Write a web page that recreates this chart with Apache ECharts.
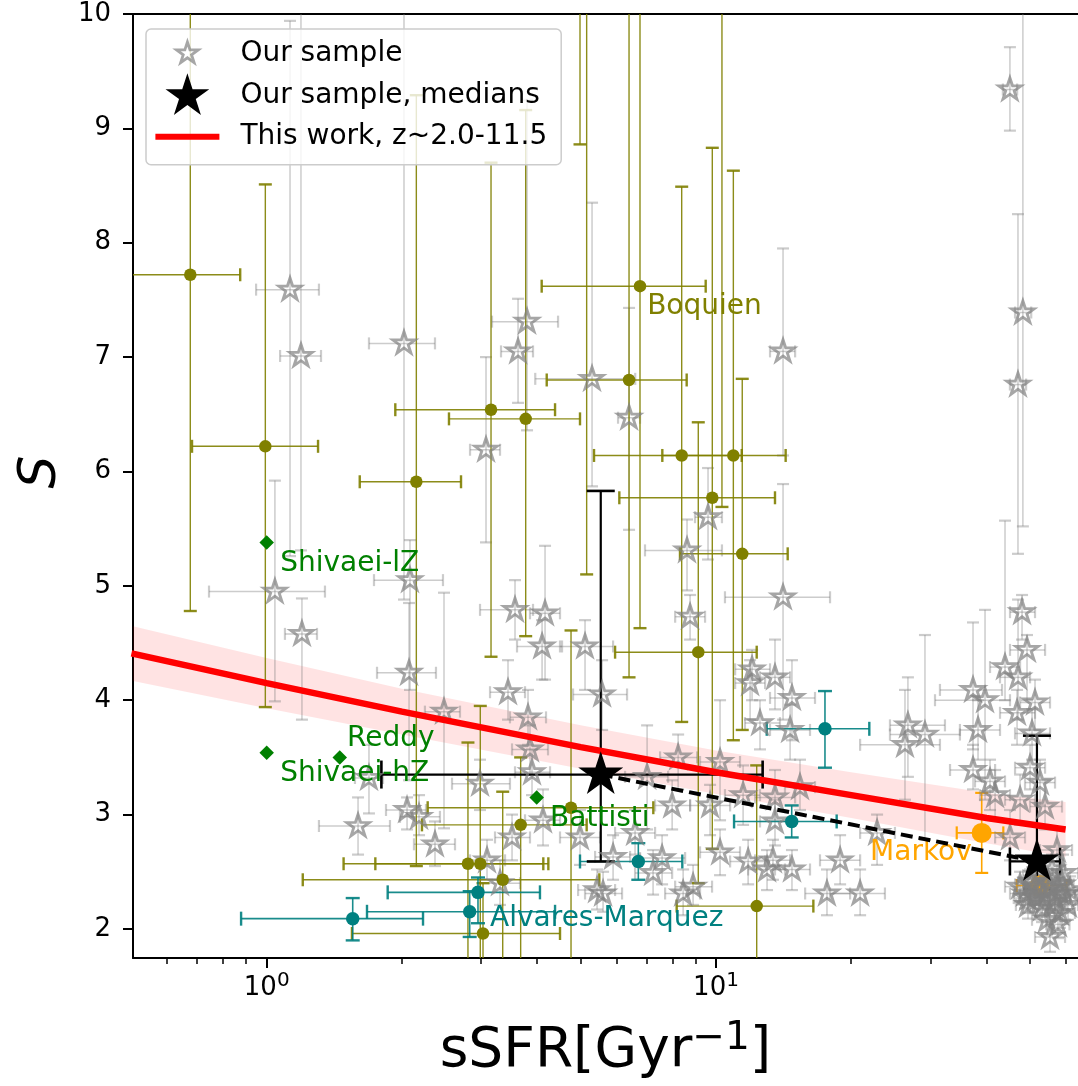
<!DOCTYPE html>
<html><head><meta charset="utf-8">
<script src="https://cdn.jsdelivr.net/npm/echarts@6/dist/echarts.min.js"></script>
<style>html,body{margin:0;padding:0;background:#fff}#c{width:1078px;height:1086px}</style>
</head><body><div id="c"></div>
<script>
// ---------------- data ----------------
const xMajorTicks = [1, 10];
const xMinorTicks = [0.5, 0.6, 0.7, 0.8, 0.9, 2, 3, 4, 5, 6, 7, 8, 9, 20, 30, 40, 50, 60];
const yTicks = [2, 3, 4, 5, 6, 7, 8, 9, 10];

// "Our sample" (grey stars)
const sampleX = [45.1,48.2,47.0,1.127,1.192,2.021,3.077,3.797,3.626,5.298,
6.405,14.10,9.60,8.62,1.043,1.198,2.084,2.074,2.481,2.984,
1.689,1.597,2.053,2.183,2.369,3.570,4.164,4.101,5.111,8.756,
14.10,3.444,5.578,3.816,3.855,3.895,7.025,8.236,10.21,7.987,
9.701,11.49,12.03,11.91,13.53,14.76,12.53,14.62,15.38,13.53,
13.53,3.516,4.121,4.982,6.605,5.901,7.586,7.244,10.21,11.79,
12.99,13.39,14.76,3.093,3.306,5.436,5.606,8.450,8.892,17.66,
18.89,20.93,22.83,26.74,26.34,29.18,37.33,39.70,38.30,37.33,
40.73,43.98,47.02,46.78,51.29,49.23,47.99,50.00,41.80,45.12,
47.51,54.00,50.51,52.62,57.41,59.20,50.00,52.62,55.39,58.30,
51.29,54.00,56.83,59.82,48.73,54.55,58.30,55.39,60.75,52.09,
55.96,47.51,50.51,53.44,57.41,49.48,49.48,53.17,56.83,51.55,
54.83,58.90,61.37,57.70];
const sampleS = [9.34,7.39,6.76,7.59,7.01,7.12,6.19,7.31,7.05,6.81,
6.47,7.05,5.60,5.31,4.95,4.58,5.05,4.24,3.90,3.27,
3.32,2.90,3.04,2.98,2.74,4.79,4.76,4.47,4.47,4.73,
4.90,4.07,4.05,3.85,3.57,3.37,3.33,3.50,3.46,3.08,
3.08,3.17,4.27,4.15,4.20,4.02,3.80,3.74,3.24,3.15,
2.94,2.80,2.95,2.80,2.84,2.63,2.62,2.49,2.67,2.59,
2.52,2.60,2.52,2.60,2.40,2.34,2.31,2.31,2.37,2.31,
2.60,2.31,2.84,3.78,3.61,3.70,4.09,4.00,3.74,3.39,
3.29,4.29,4.20,3.89,3.98,4.44,4.77,3.41,3.17,2.80,
3.13,3.07,3.71,3.28,2.69,2.49,2.39,2.34,2.36,2.32,
2.28,2.25,2.27,2.30,2.31,2.08,2.14,1.93,2.21,2.47,
2.52,2.37,2.41,2.30,2.39,2.27,2.21,2.18,2.21,2.36,
2.41,2.39,2.34,2.04];
const sampleXLo = [43.5,46.3,45.1,0.947,1.071,1.689,2.835,3.173,3.323,3.96,
6.053,13.19,8.98,6.95,0.744,1.098,1.733,1.760,2.250,2.585,
1.572,1.307,1.843,1.980,2.127,2.984,3.855,3.607,4.496,8.111,
10.47,3.141,4.807,3.479,3.516,3.570,6.275,7.508,9.215,7.318,
8.756,10.47,11.03,11.03,12.53,13.19,11.60,13.19,14.24,12.22,
12.53,3.222,3.758,4.496,5.962,5.381,6.776,6.605,9.215,10.75,
11.79,12.22,13.53,2.835,2.984,4.932,5.111,7.704,8.111,15.79,
17.04,17.94,20.93,24.39,20.93,24.39,31.51,30.72,34.91,33.18,
37.71,40.73,42.87,42.87,47.51,45.12,45.12,46.30,38.69,41.80,
43.98,50.00,46.30,48.73,52.62,54.83,46.30,48.73,51.29,54.00,
47.51,50.00,52.62,55.39,45.12,50.51,54.00,51.29,56.83,48.24,
52.09,43.98,47.0,50.0,54.0,46.0,46.5,50.0,53.5,48.5,
51.5,55.5,58.0,54.3];
const sampleXHi = [46.8,50.3,49.0,1.307,1.321,2.369,3.306,4.451,3.915,6.61,
6.776,15.00,10.31,10.31,1.348,1.294,2.468,2.381,2.693,3.479,
1.815,1.881,2.262,2.430,2.625,3.915,4.496,4.543,5.901,9.455,
17.94,3.758,6.339,4.185,4.228,4.272,7.824,9.076,11.31,8.756,
10.75,12.53,13.19,12.86,14.62,16.61,13.88,16.19,16.61,15.00,
14.62,3.855,4.496,5.520,7.318,6.438,8.536,7.987,11.31,12.86,
14.24,14.62,16.19,3.392,3.663,5.962,6.179,9.215,9.800,19.88,
20.93,23.77,25.02,32.33,31.51,34.91,43.31,45.12,42.87,41.80,
43.98,47.51,50.00,51.29,55.39,54.00,51.29,54.00,45.12,48.73,
51.29,58.90,55.39,56.83,62.01,63.93,54.00,56.83,59.82,62.95,
55.39,58.30,61.37,63.93,52.62,58.90,62.95,59.82,63.93,56.23,
59.82,51.29,54.3,57.0,61.0,53.0,52.5,56.5,60.3,54.8,
58.2,62.5,64.5,61.2];
const sampleSLo = [8.98,5.52,5.28,5.26,5.31,4.88,5.38,6.36,6.60,5.87,
5.49,6.14,5.23,4.96,3.99,3.83,4.09,3.30,2.88,3.04,
3.01,2.65,2.87,2.82,2.55,4.53,4.18,4.18,4.09,4.53,
3.83,3.83,3.74,3.61,3.35,3.17,2.87,3.22,2.95,2.87,
2.82,2.91,4.00,3.83,3.92,3.65,3.57,3.48,3.04,2.95,
2.73,2.60,2.73,2.56,2.65,2.43,2.39,2.30,2.47,2.39,
2.34,2.43,2.34,2.43,2.21,2.17,2.15,2.12,2.21,2.12,
2.39,2.12,2.56,3.33,3.13,2.78,3.57,3.13,3.48,3.22,
3.04,4.00,3.83,3.61,3.74,4.00,4.53,3.22,2.95,2.60,
2.91,2.87,3.48,3.08,2.52,2.34,2.25,2.21,2.23,2.19,
2.15,2.12,2.14,2.17,2.18,1.95,2.01,1.80,2.08,2.34,
2.38,2.24,2.28,2.17,2.26,2.14,2.09,2.06,2.09,2.24,
2.29,2.27,2.22,1.92];
const sampleSHi = [9.71,10.6,8.25,9.94,10.3,10.4,7.00,9.25,7.51,8.35,
7.43,7.95,6.03,5.58,5.92,4.89,5.40,4.85,4.94,3.48,
3.61,3.15,3.15,3.17,2.94,5.05,5.35,4.70,4.70,4.92,
5.89,4.35,4.35,4.09,3.78,3.57,3.78,3.70,4.00,3.30,
3.26,3.43,4.44,4.35,4.53,4.35,4.00,3.96,3.48,3.39,
3.13,3.00,3.22,3.04,3.04,2.82,2.82,2.69,2.87,2.78,
2.69,2.78,2.69,2.78,2.60,2.52,2.50,2.52,2.56,2.52,
2.82,2.52,3.00,4.20,4.09,4.57,4.68,4.79,4.00,3.61,
3.48,5.57,4.88,4.09,4.18,4.57,4.92,3.61,3.39,3.04,
3.35,3.30,3.92,3.48,2.87,2.65,2.52,2.47,2.49,2.45,
2.41,2.38,2.40,2.43,2.45,2.21,2.27,2.06,2.34,2.60,
2.65,2.50,2.54,2.43,2.52,2.40,2.33,2.30,2.33,2.48,
2.53,2.51,2.46,2.16];

// Boquien (olive)
const boqX   = [0.676,0.993,2.153,3.157,3.771,6.774,6.404,8.388,10.93,9.812,11.44,9.132,4.757,3.675,2.805,2.988,3.352,3.030,12.32,5.154,10.31,4.981];
const boqS   = [7.72,6.22,5.91,6.54,6.46,7.62,6.80,6.14,6.14,5.77,5.28,4.42,3.06,2.91,2.57,2.57,2.43,1.96,2.20,10.8,10.6,10.8];
const boqXLo = [0.40,0.682,1.611,1.933,2.545,4.093,4.200,5.352,7.595,6.093,8.315,5.962,2.282,2.216,1.483,1.745,1.203,1.548,8.175,5.154,10.31,4.981];
const boqXHi = [0.873,1.301,2.707,4.383,4.981,9.486,8.605,11.41,14.29,13.53,14.44,12.32,7.252,5.154,4.127,4.235,5.499,4.496,16.47,5.154,10.31,4.981];
const boqSLo = [4.78,3.94,2.55,4.38,4.56,4.63,4.20,3.81,3.65,2.70,3.74,2.40,1.50,1.50,1.50,1.50,1.50,1.50,1.50,5.10,5.69,8.86];
const boqSHi = [11.0,8.51,9.29,8.70,9.16,11.0,11.0,8.49,8.63,8.83,6.81,6.43,4.61,3.50,3.63,3.95,3.20,2.40,3.43,11.0,11.0,11.0];

// Alvares-Marquez (teal)
const amX   = [1.554,2.830,2.953,6.716,14.74,17.48];
const amS   = [2.09,2.15,2.32,2.59,2.94,3.75];
const amXLo = [0.877,1.672,1.859,4.981,10.97,12.97];
const amXHi = [2.228,4.383,4.057,8.414,18.56,21.94];
const amSLo = [1.90,1.93,2.05,2.43,2.80,3.41];
const amSHi = [2.27,2.33,2.45,2.75,3.08,4.08];

// Shivaei / Reddy / Battisti (green diamonds)
const grnX = [1.0, 1.0, 1.454, 3.990];
const grnS = [5.38, 3.54, 3.50, 3.15];

// Markov (orange)
const mkX   = [39.03, 52.6];
const mkS   = [2.84, 2.38];
const mkXLo = [34.34, 46.7];
const mkXHi = [43.6, 60.3];
const mkSLo = [2.49, 2.30];
const mkSHi = [3.19, 2.46];

// medians
const medX   = [5.54, 51.8];
const medS   = [3.35, 2.59];
const medXLo = [1.80, 45.1];
const medXHi = [12.7, 58.3];
const medSLo = [2.59, 2.35];
const medSHi = [5.83, 3.69];

// This work relation and its band
const fitX      = [0.5, 1, 2, 5, 10, 20, 40, 60];
const fitS      = [4.41, 4.15, 3.90, 3.59, 3.37, 3.17, 2.97, 2.87];
const bandUpper = [4.65, 4.37, 4.10, 3.78, 3.56, 3.37, 3.19, 3.11];
const bandLower = [4.17, 3.93, 3.70, 3.40, 3.18, 2.97, 2.75, 2.63];

// annotation labels
const annText  = ['Boquien', 'Shivaei-lZ', 'Reddy', 'Shivaei-hZ', 'Battisti', 'Alvares-Marquez', 'Markov'];
const annX     = [7.025, 1.071, 1.509, 1.071, 4.272, 3.141, 22.02];
const annS     = [7.438, 5.191, 3.661, 3.355, 2.962, 2.087, 2.665];
const annColor = ['#808000', '#008000', '#008000', '#008000', '#008000', '#008080', '#ffa500'];

// ---------------- chart ----------------
const FONT = 'DejaVu Sans';
const X_MIN = 0.504, X_MAX = 63.93, Y_MIN = 1.746, Y_MAX = 10;

const UNIT_STAR = [[0,-1],[0.2245,-0.309],[0.9511,-0.309],[0.3633,0.118],[0.5878,0.809],[0,0.382],[-0.5878,0.809],[-0.3633,0.118],[-0.9511,-0.309],[-0.2245,-0.309]];
function starPath(cx, cy, R) {
  return UNIT_STAR.map((p, i) => (i ? 'L' : 'M') + (cx + p[0]*R).toFixed(2) + ' ' + (cy + p[1]*R).toFixed(2)).join('') + 'Z';
}
const STAR_SYMBOL = 'path://' + starPath(0, 0, 10);
const IW = 80, IH = 46;
const iconGrey = 'path://M0 0M' + IW + ' ' + IH + starPath(32, 23, 11.4);
const iconBlack = 'path://M0 0M' + IW + ' ' + IH + starPath(32, 23.5, 23);
const iconLine = 'path://M0 0M' + IW + ' ' + IH + 'M0 20L64 20L64 26L0 26Z';

function zip6(a, b, c, d, e, f) { return a.map((v, i) => [v, b[i], c[i], d[i], e[i], f[i]]); }

function errRender(color, lw, capLen, capW) {
  return function (params, api) {
    const x = api.value(0), y = api.value(1);
    const c = api.coord([x, y]);
    const xl = api.coord([api.value(2), y])[0];
    const xh = api.coord([api.value(3), y])[0];
    const yl = api.coord([x, api.value(4)])[1];
    const yh = api.coord([x, api.value(5)])[1];
    const cs = params.coordSys;
    const ls = { stroke: color, lineWidth: lw };
    const cst = { stroke: color, lineWidth: capW };
    const h = capLen / 2;
    const ch = [];
    if (Math.abs(xh - xl) > 0.5) {
      ch.push({ type: 'line', shape: { x1: xl, y1: c[1], x2: xh, y2: c[1] }, style: ls });
      ch.push({ type: 'line', shape: { x1: xl, y1: c[1] - h, x2: xl, y2: c[1] + h }, style: cst });
      ch.push({ type: 'line', shape: { x1: xh, y1: c[1] - h, x2: xh, y2: c[1] + h }, style: cst });
    }
    if (Math.abs(yh - yl) > 0.5) {
      ch.push({ type: 'line', shape: { x1: c[0], y1: yl, x2: c[0], y2: yh }, style: ls });
      ch.push({ type: 'line', shape: { x1: c[0] - h, y1: yl, x2: c[0] + h, y2: yl }, style: cst });
      ch.push({ type: 'line', shape: { x1: c[0] - h, y1: yh, x2: c[0] + h, y2: yh }, style: cst });
    }
    return { type: 'group', children: ch,
      clipPath: { type: 'rect', shape: { x: cs.x, y: cs.y, width: cs.width, height: cs.height } } };
  };
}
function errSeries(name, data, color, lw, capLen, capW) {
  return { type: 'custom', name: name, data: data, encode: { x: 0, y: 1 },
    renderItem: errRender(color, lw, capLen, capW), silent: true, animation: false };
}

const chart = echarts.init(document.getElementById('c'), null, { renderer: 'canvas' });

const option = {
  animation: false,
  backgroundColor: '#ffffff',
  textStyle: { fontFamily: FONT },
  grid: { left: 133, top: 14, right: 0, bottom: 128, containLabel: false },
  legend: {
    left: 146, top: 29, orient: 'vertical',
    padding: [0, 14, 5, 8],
    itemWidth: IW, itemHeight: IH, itemGap: -5,
    selectedMode: false,
    backgroundColor: 'rgba(255,255,255,0.8)',
    borderColor: '#cccccc', borderWidth: 1.5, borderRadius: 5,
    textStyle: { fontSize: 28, color: '#000', fontFamily: FONT },
    data: [
      { name: 'Our sample', icon: iconGrey,
        itemStyle: { color: 'rgba(0,0,0,0)', borderColor: 'rgba(128,128,128,0.7)', borderWidth: 2.8 } },
      { name: 'Our sample, medians', icon: iconBlack,
        itemStyle: { color: '#000', borderWidth: 0 } },
      { name: 'This work, z~2.0-11.5', icon: iconLine,
        itemStyle: { color: '#ff0000', borderWidth: 0 } }
    ]
  },
  xAxis: [
    { type: 'log', logBase: 10, min: X_MIN, max: X_MAX, position: 'bottom',
      axisLine: { show: true, onZero: false, lineStyle: { color: '#000', width: 2 } },
      axisTick: { show: true, customValues: xMajorTicks, length: 10, lineStyle: { color: '#000', width: 2 } },
      axisLabel: { customValues: xMajorTicks, margin: 13, color: '#000',
        formatter: function (v) { return '{b|10}{s|' + Math.round(Math.log10(v)) + '}'; },
        rich: { b: { fontSize: 26, fontFamily: FONT, color: '#000', lineHeight: 35, verticalAlign: 'middle' },
                s: { fontSize: 20, fontFamily: FONT, color: '#000', lineHeight: 25, verticalAlign: 'top' } } },
      splitLine: { show: false },
      name: '{n|sSFR[Gyr}{s|\u22121}{n|]}', nameLocation: 'middle', nameGap: 61,
      nameTextStyle: { rich: {
        n: { fontSize: 55, fontFamily: FONT, color: '#000', lineHeight: 65, verticalAlign: 'middle' },
        s: { fontSize: 39, fontFamily: FONT, color: '#000', lineHeight: 32, verticalAlign: 'top' } } } },
    { type: 'log', logBase: 10, min: X_MIN, max: X_MAX, position: 'bottom',
      axisLine: { show: false, onZero: false },
      axisTick: { show: true, customValues: xMinorTicks, length: 6, lineStyle: { color: '#000', width: 1.5 } },
      axisLabel: { show: false }, splitLine: { show: false } },
    { type: 'log', logBase: 10, min: X_MIN, max: X_MAX, position: 'top',
      axisLine: { show: true, onZero: false, lineStyle: { color: '#000', width: 2 } },
      axisTick: { show: false }, axisLabel: { show: false }, splitLine: { show: false } }
  ],
  yAxis: {
    type: 'value', min: Y_MIN, max: Y_MAX,
    axisLine: { show: true, onZero: false, lineStyle: { color: '#000', width: 2 } },
    axisTick: { show: true, customValues: yTicks, length: 10, lineStyle: { color: '#000', width: 2 } },
    axisLabel: { customValues: yTicks, fontSize: 26, color: '#000', fontFamily: FONT, margin: 22 },
    splitLine: { show: false },
    name: 'S', nameLocation: 'middle', nameGap: 66, nameRotate: 90,
    nameTextStyle: { fontSize: 52, fontStyle: 'italic', fontFamily: FONT, color: '#000', padding: [0, 0, 0, 28] }
  },
  series: [
    // confidence band
    { type: 'custom', name: 'band', data: [[fitX[0], fitS[0]]], encode: { x: 0, y: 1 }, silent: true,
      renderItem: function (params, api) {
        const pts = [];
        for (let i = 0; i < fitX.length; i++) pts.push(api.coord([fitX[i], bandUpper[i]]));
        for (let i = fitX.length - 1; i >= 0; i--) pts.push(api.coord([fitX[i], bandLower[i]]));
        const cs = params.coordSys;
        return { type: 'polygon', shape: { points: pts }, style: { fill: 'rgba(255,0,0,0.11)' },
          clipPath: { type: 'rect', shape: { x: cs.x, y: cs.y, width: cs.width, height: cs.height } } };
      } },
    // Markov
    errSeries('Markov err', zip6(mkX, mkS, mkXLo, mkXHi, mkSLo, mkSHi), '#ffa500', 1.6, 13, 2.2),
    { type: 'scatter', name: 'Markov', data: mkX.map((x, i) => [x, mkS[i]]), symbol: 'circle', symbolSize: 20,
      itemStyle: { color: '#ffa500', opacity: 1 }, silent: true },
    // our sample
    errSeries('Our sample err', zip6(sampleX, sampleS, sampleXLo, sampleXHi, sampleSLo, sampleSHi), 'rgba(128,128,128,0.4)', 1.5, 12, 2.2),
    { type: 'scatter', name: 'Our sample', data: sampleX.map((x, i) => [x, sampleS[i]]),
      symbol: STAR_SYMBOL, symbolSize: [22.5, 21.4], symbolOffset: [0, -1],
      itemStyle: { color: 'rgba(0,0,0,0)', borderColor: 'rgba(128,128,128,0.7)', borderWidth: 2.8, opacity: 1 }, silent: true },
    // Boquien
    errSeries('Boquien err', zip6(boqX, boqS, boqXLo, boqXHi, boqSLo, boqSHi), 'rgba(128,128,0,0.9)', 1.4, 13, 2.4),
    { type: 'scatter', name: 'Boquien', data: boqX.map((x, i) => [x, boqS[i]]), symbol: 'circle', symbolSize: 12.5,
      itemStyle: { color: '#808000', opacity: 1 }, silent: true },
    // Alvares-Marquez
    errSeries('AM err', zip6(amX, amS, amXLo, amXHi, amSLo, amSHi), 'rgba(0,128,128,0.9)', 1.6, 14, 2.4),
    { type: 'scatter', name: 'Alvares-Marquez', data: amX.map((x, i) => [x, amS[i]]), symbol: 'circle', symbolSize: 13.5,
      itemStyle: { color: '#008080', opacity: 1 }, silent: true },
    // Shivaei / Reddy / Battisti
    { type: 'scatter', name: 'green', data: grnX.map((x, i) => [x, grnS[i]]), symbol: 'diamond', symbolSize: [14.5, 14.5],
      itemStyle: { color: '#008000', opacity: 1 }, silent: true },
    // This work
    { type: 'line', name: 'This work, z~2.0-11.5', data: fitX.map((x, i) => [x, fitS[i]]), showSymbol: false, symbol: 'none',
      lineStyle: { color: '#ff0000', width: 6.5 }, itemStyle: { color: '#ff0000' }, silent: true, z: 3 },
    // annotations
    { type: 'scatter', name: 'labels', symbolSize: 0.1, silent: true, z: 4,
      data: annText.map((t, i) => ({ value: [annX[i], annS[i]], name: t,
        label: { show: true, position: 'right', distance: 0, formatter: t, color: annColor[i], opacity: 1,
                 fontSize: 28, fontFamily: FONT } })),
      itemStyle: { color: 'rgba(0,0,0,0)', opacity: 1 } },
    // medians
    errSeries('median err', zip6(medX, medS, medXLo, medXHi, medSLo, medSHi), '#000', 2.2, 28, 2.6),
    { type: 'line', name: 'median trend', data: medX.map((x, i) => [x, medS[i]]), showSymbol: false, symbol: 'none',
      lineStyle: { color: '#000', width: 4, type: [12, 6] }, silent: true, z: 5 },
    { type: 'scatter', name: 'Our sample, medians', data: medX.map((x, i) => [x, medS[i]]),
      symbol: STAR_SYMBOL, symbolSize: [45, 42.8], symbolOffset: [0, -2],
      itemStyle: { color: '#000', opacity: 1 }, silent: true, z: 6 }
  ]
};
chart.setOption(option);
</script>
</body></html>
